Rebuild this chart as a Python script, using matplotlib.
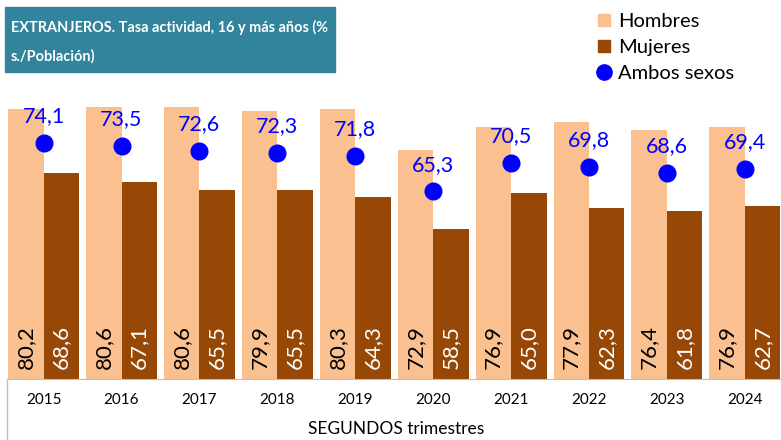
import numpy as np
import matplotlib.pyplot as plt
from matplotlib.patches import Rectangle
from matplotlib.lines import Line2D
from matplotlib.patches import Patch

years = ['2015', '2016', '2017', '2018', '2019', '2020', '2021', '2022', '2023', '2024']
hombres = [80.2, 80.6, 80.6, 79.9, 80.3, 72.9, 76.9, 77.9, 76.4, 76.9]
mujeres = [68.6, 67.1, 65.5, 65.5, 64.3, 58.5, 65.0, 62.3, 61.8, 62.7]
ambos = [74.1, 73.5, 72.6, 72.3, 71.8, 65.3, 70.5, 69.8, 68.6, 69.4]

c_h = '#FAC090'
c_m = '#974806'
c_a = '#0000FF'
c_title = '#31849B'

plt.rcParams['font.family'] = ['Lato', 'DejaVu Sans']

W, H = 781, 440
fig = plt.figure(figsize=(W / 100, H / 100), dpi=100)
ax = fig.add_axes([7 / W, 61 / H, 774 / W, 379 / H])

x = np.arange(len(years))
bw = 0.455
ax.bar(x - bw / 2, hombres, bw, color=c_h, zorder=2)
ax.bar(x + bw / 2, mujeres, bw, color=c_m, zorder=2)
ax.plot(x, ambos, 'o', color=c_a, markersize=12, zorder=3)

ymin = 31.3
ax.set_xlim(-0.47, 9.465)
ax.set_ylim(ymin, 100)

fmt = lambda v: f'{v:.1f}'.replace('.', ',')
for i in range(len(years)):
    ax.annotate(fmt(hombres[i]), (x[i] - bw / 2, ymin), xytext=(0, 7),
                textcoords='offset points', rotation=90, ha='center', va='bottom',
                fontsize=16, color='black', zorder=4)
    ax.annotate(fmt(mujeres[i]), (x[i] + bw / 2, ymin), xytext=(0, 7),
                textcoords='offset points', rotation=90, ha='center', va='bottom',
                fontsize=16, color='white', zorder=4)
    ax.annotate(fmt(ambos[i]), (x[i], ambos[i]), xytext=(0, 15),
                textcoords='offset points', ha='center', va='baseline',
                fontsize=15.5, color=c_a, zorder=4)

for s in ['top', 'right', 'left']:
    ax.spines[s].set_visible(False)
ax.spines['bottom'].set_color('#BFBFBF')
ax.plot([0, 0], [0, -0.2], transform=ax.transAxes, color='#BFBFBF', lw=1, clip_on=False)
ax.set_yticks([])
ax.set_xticks(x)
ax.set_xticklabels(years, fontsize=11)
ax.tick_params(axis='x', length=0, pad=10)

fig.text(396 / W, 1 - 429 / H, 'SEGUNDOS trimestres', ha='center', va='center', fontsize=12.5)

# caja del titulo
fig.patches.append(Rectangle((5 / W, 1 - 72 / H), 330 / W, 65 / H,
                             transform=fig.transFigure, color=c_title, zorder=5))
t1 = fig.text(11 / W, 1 - 27 / H, 'EXTRANJEROS. Tasa actividad, 16 y más años (%',
              ha='left', va='center', fontsize=14, fontweight='bold', color='white', zorder=6)
t2 = fig.text(11 / W, 1 - 56 / H, 's./Población)',
              ha='left', va='center', fontsize=14, fontweight='bold', color='white', zorder=6)
# ajustar el tamaño para que la primera linea quepa en la caja (~320 px)
r = fig.canvas.get_renderer()
w = t1.get_window_extent(r).width
fs = 14 * 320 / w
t1.set_fontsize(fs)
t2.set_fontsize(fs)

handles = [
    Patch(color=c_h, label='Hombres'),
    Patch(color=c_m, label='Mujeres'),
    Line2D([], [], marker='o', color=c_a, linestyle='none', markersize=11, label='Ambos sexos'),
]
fig.legend(handles=handles, loc='upper left', bbox_to_anchor=(590 / W, 1 - 5 / H),
           frameon=False, fontsize=14.5, handlelength=0.6, handleheight=0.6,
           handletextpad=0.4, labelspacing=0.45, borderaxespad=0)

fig.savefig('out.png', dpi=100)
